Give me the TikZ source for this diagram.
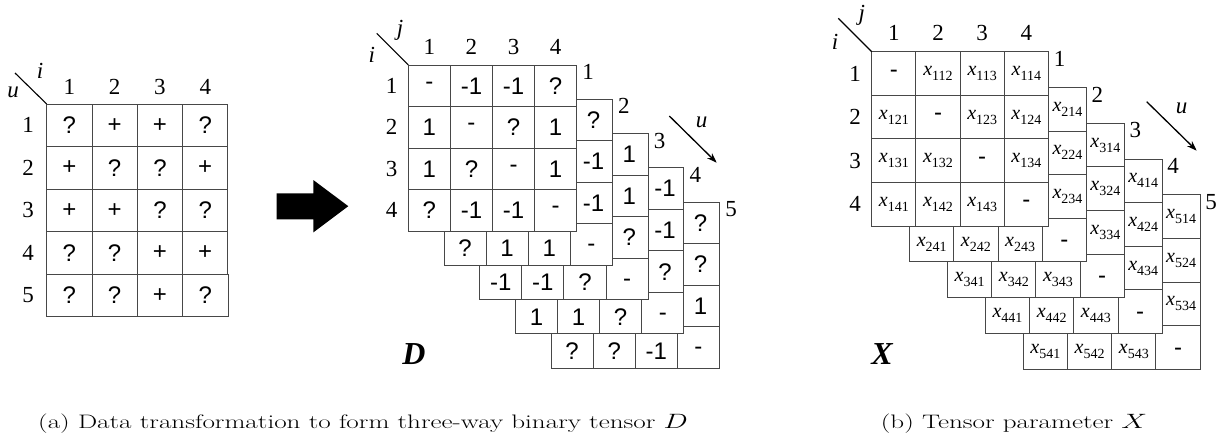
\documentclass[tikz,border=0pt]{standalone}
\usepackage{fontspec}
\newfontfamily\sfa{Liberation Sans}
\newfontfamily\tms{Liberation Serif}
\usetikzlibrary{arrows.meta}
\newcommand\xs[1]{{\tms\fontsize{20}{20}\selectfont\itshape x}{\tms\fontsize{14}{14}\selectfont\raisebox{-5pt}{#1}}}
\newcommand\gridslice[4]{%
  \fill[white] (#1,#2) rectangle ++({4*#3},{4*#4});
  \foreach \ii in {1,2,3}{%
    \draw[gridline] ({#1+\ii*#3},#2) -- ++(0,{4*#4});
    \draw[gridline] (#1,{#2+\ii*#4}) -- ++({4*#3},0);}
  \draw[gridline] (#1,#2) rectangle ++({4*#3},{4*#4});
}
\newcommand\captxt[1]{\scalebox{1.39}[1]{#1}}
\tikzset{
  gridline/.style={draw=black!72, line width=0.9pt},
  val/.style={font=\sfa\fontsize{24}{24}\selectfont, inner sep=0pt},
  xval/.style={inner sep=0pt},
  lab/.style={font=\tms\fontsize{23}{23}\selectfont, inner sep=0pt},
  ilab/.style={font=\tms\itshape\fontsize{23}{23}\selectfont, inner sep=0pt},
  big/.style={font=\tms\bfseries\itshape\fontsize{32}{32}\selectfont, inner sep=0pt},
  uarrow/.style={line width=1.3pt, -{Stealth[length=10pt,width=7pt]}},
  diag/.style={line width=1.1pt},
  captext/.style={font=\fontsize{19.5}{24}\selectfont, inner sep=0pt}
}
\begin{document}
\begin{tikzpicture}[x=1pt,y=-1pt]
\useasboundingbox (0,0) rectangle (1228,440);

% ---------------- left matrix ----------------
\gridslice{46.7}{104}{45.3}{42.5}
\foreach \row [count=\r] in {{?,+,+,?},{+,?,?,+},{+,+,?,?},{?,?,+,+},{?,?,+,?}}{
  \foreach \v [count=\c] in \row {
    \node[val] (m-\r-\c) at ({46.7+(\c-0.5)*45.3},{104+(\r-0.5)*42.5}) {\v};
  }
  \node[lab] (mr-\r) at (28,{104+(\r-0.5)*42.5}) {\r};
}
\draw[gridline] (46.7,274) rectangle (228,316.5);
\foreach \ii in {1,2,3} \draw[gridline] ({46.7+\ii*45.3},274) -- ({46.7+\ii*45.3},316.5);
\foreach \c in {1,2,3,4} \node[lab] (mc-\c) at ({46.7+(\c-0.5)*45.3},87) {\c};
\coordinate (mcorner) at (46.7,104);
\coordinate (mdiag) at (15,73);
\draw[diag] (mdiag) -- (mcorner);
\node[ilab] (mi) at (40,71) {i};
\node[ilab] (mu) at (13,92) {u};

% ---------------- big arrow ----------------
\fill[black] (276.7,193.3) -- (313.3,193.3) -- (313.3,180) -- (348.3,206.2)
  -- (313.3,232.4) -- (313.3,219.3) -- (276.7,219.3) -- cycle;

% ---------------- tensor D ----------------
\foreach \k in {4,3,2,1,0}{
  \pgfmathsetmacro\L{408.3+35.7*\k}
  \pgfmathsetmacro\T{65+34.3*\k}
  \gridslice{\L}{\T}{42.1}{41.5}
  \pgfmathtruncatemacro\n{\k+1}
  \node[lab] (dl-\n) at ({\L+4*42.1+11.5},{\T+7}) {\n};
}
\foreach \row [count=\r] in {{-,-1,-1,?},{1,-,?,1},{1,?,-,1},{?,-1,-1,-}}{
  \foreach \v [count=\c] in \row {
    \node[val] (d1-\r-\c) at ({408.3+(\c-0.5)*42.1},{65+(\r-0.5)*41.5}) {\v};
  }
  \node[lab] (dr-\r) at (391.7,{65+(\r-0.5)*41.5}) {\r};
  \node[lab] (dc-\r) at ({408.3+(\r-0.5)*42.1},46.5) {\r};
}
\foreach \k/\ca/\cb/\cc/\ra/\rb/\rc/\rd in
  {1/?/-1/-1/?/1/1/-, 2/1/1/?/-1/-1/?/-, 3/-1/-1/?/1/1/?/-, 4/?/?/1/?/?/-1/-}{
  \pgfmathsetmacro\L{408.3+35.7*\k}
  \pgfmathsetmacro\T{65+34.3*\k}
  \pgfmathsetmacro\cx{\L+4*42.1-35.7/2-1}
  \pgfmathsetmacro\ry{\T+4*41.5-34.3/2}
  \node[val] (dk\k-c1) at (\cx,{\T+0.5*41.5}) {\ca};
  \node[val] (dk\k-c2) at (\cx,{\T+1.5*41.5}) {\cb};
  \node[val] (dk\k-c3) at (\cx,{\T+2.5*41.5}) {\cc};
  \node[val] (dk\k-r1) at ({\L+0.5*42.1},\ry) {\ra};
  \node[val] (dk\k-r2) at ({\L+1.5*42.1},\ry) {\rb};
  \node[val] (dk\k-r3) at ({\L+2.5*42.1},\ry) {\rc};
  \node[val] (dk\k-r4) at ({\L+3.5*42.1},\ry) {\rd};
}
\coordinate (dcorner) at (408.3,65);
\coordinate (ddiag) at (376.7,33.3);
\draw[diag] (ddiag) -- (dcorner);
\node[ilab] (dj) at (400,30) {j};
\node[ilab] (di) at (371.7,55) {i};
\coordinate (dua) at (669.3,116);
\coordinate (dub) at (716.7,162.7);
\draw[uarrow] (dua) -- (dub);
\node[ilab] (du) at (701.7,122) {u};
\node[big] (Dlab) at (414,354) {D};

% ---------------- tensor X ----------------
\foreach \k in {4,3,2,1,0}{
  \pgfmathsetmacro\L{871.7+37.9*\k}
  \pgfmathsetmacro\T{51.7+35.8*\k}
  \gridslice{\L}{\T}{44.2}{43.6}
  \pgfmathtruncatemacro\n{\k+1}
  \node[lab] (xl-\n) at ({\L+4*44.2+11},{\T+7}) {\n};
}
\foreach \r in {1,2,3,4}{
  \foreach \c in {1,2,3,4}{
    \ifnum\r=\c
      \node[val] (x1-\r-\c) at ({871.7+(\c-0.5)*44.2},{51.7+(\r-0.5)*43.6}) {-};
    \else
      \node[xval] (x1-\r-\c) at ({871.7+(\c-0.5)*44.2},{51.7+(\r-0.5)*43.6}) {\xs{1\r\c}};
    \fi
  }
  \node[lab] (xr-\r) at (855,{51.7+(\r-0.5)*43.6}) {\r};
  \node[lab] (xc-\r) at ({871.7+(\r-0.5)*44.2},33) {\r};
}
\foreach \k in {1,2,3,4}{
  \pgfmathsetmacro\L{871.7+37.9*\k}
  \pgfmathsetmacro\T{51.7+35.8*\k}
  \pgfmathtruncatemacro\s{\k+1}
  \pgfmathsetmacro\cx{\L+4*44.2-37.9/2}
  \pgfmathsetmacro\ry{\T+4*43.6-35.8/2}
  \foreach \r in {1,2,3}{
    \node[xval] (xk\k-c\r) at (\cx,{\T+(\r-0.5)*43.6}) {\xs{\s\r4}};
    \node[xval] (xk\k-r\r) at ({\L+(\r-0.5)*44.2},\ry) {\xs{\s4\r}};
  }
  \node[val] (xk\k-r4) at ({\L+3.5*44.2},\ry) {-};
}
\coordinate (xcorner) at (871.7,51.7);
\coordinate (xdiag) at (838.3,18.3);
\draw[diag] (xdiag) -- (xcorner);
\node[ilab] (xj) at (861.7,15) {j};
\node[ilab] (xi) at (835,41.7) {i};
\coordinate (xua) at (1146.7,101.7);
\coordinate (xub) at (1196.7,150.7);
\draw[uarrow] (xua) -- (xub);
\node[ilab] (xu) at (1181.7,108) {u};
\node[big] (Xlab) at (882,354) {X};

% ---------------- captions ----------------
\node[captext] (capa) at (363,424) {\captxt{(a) Data transformation to form three-way binary tensor $D$}};
\node[captext] (capb) at (1014,424) {\captxt{(b) Tensor parameter $X$}};
\end{tikzpicture}
\end{document}
